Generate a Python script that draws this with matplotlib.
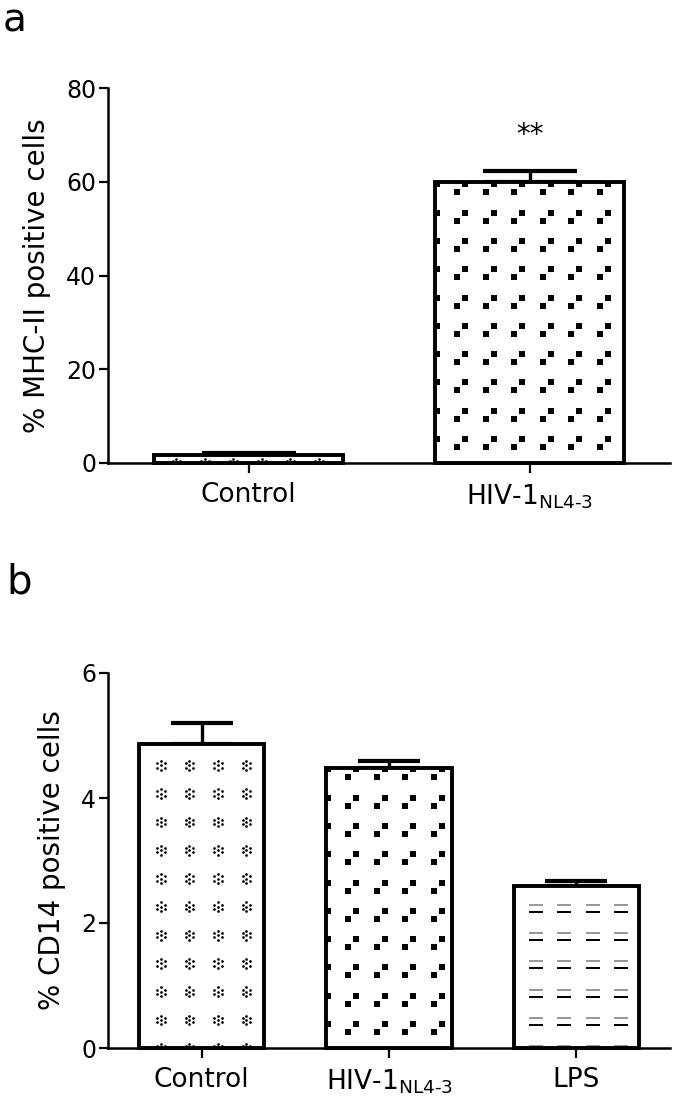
import numpy as np
import matplotlib
matplotlib.use('Agg')
import matplotlib.pyplot as plt

# panel a
groups_a = ['Control', r'HIV-1$_\text{NL4-3}$']
mhc_mean = [1.8, 60.0]
mhc_err = [0.4, 2.3]
mhc_fill = ['flower', 'squares']
mhc_ticks = [0, 20, 40, 60, 80]

# panel b
groups_b = ['Control', r'HIV-1$_\text{NL4-3}$', 'LPS']
cd14_mean = [4.87, 4.48, 2.6]
cd14_err = [0.33, 0.11, 0.08]
cd14_fill = ['flower', 'squares', 'dashes']
cd14_ticks = [0, 2, 4, 6]

DPI = 100
plt.rcParams['font.family'] = ['DejaVu Sans']
plt.rcParams['mathtext.fontset'] = 'dejavusans'


def px2pt(v):
    return v * 72.0 / DPI


def fill_pattern(ax, bar, kind):
    """draw the GraphPad-like fill motif inside a bar (pixel tiles, clipped)"""
    (x0, y0), (x1, y1) = ax.transData.transform([(bar.get_x(), bar.get_y()),
                                                  (bar.get_x() + bar.get_width(),
                                                   bar.get_y() + bar.get_height())])
    sx, sy = 28.5, 28.3
    inv = ax.transData.inverted()
    cols = np.arange(x0 + 22 - sx, x1 + sx, sx)
    rows = np.arange(y0 + 16 - sy, y1 + sy, sy)
    gx, gy = np.meshgrid(cols, rows)
    gx, gy = gx.ravel(), gy.ravel()

    def put(px, py, **kw):
        d = inv.transform(np.column_stack([px, py]))
        ln, = ax.plot(d[:, 0], d[:, 1], ls='none', zorder=3, **kw)
        ln.set_clip_path(bar)

    if kind == 'squares':
        for dx, dy in [(0, 0), (8, 8)]:
            put(gx + dx, gy + dy, marker='s', ms=px2pt(6), mfc='black', mew=0)
    elif kind == 'flower':
        offs = [(0, 0)] + [(4.4 * np.cos(a), 4.4 * np.sin(a))
                           for a in np.deg2rad(np.arange(0, 360, 60) + 30)]
        for dx, dy in offs:
            put(gx + dx, gy + 12 + dy, marker='o', ms=px2pt(2.7), mfc='black', mew=0)
    elif kind == 'dashes':
        put(gx, gy + 14, marker='_', ms=px2pt(14), mec='#999999', mew=px2pt(2))
        put(gx, gy + 7, marker='_', ms=px2pt(14), mec='black', mew=px2pt(2))


def bar_panel(fig, rect, groups, means, errs, fills, ticks, ylabel, ymax):
    ax = fig.add_axes(rect)
    x = np.arange(len(groups))
    ax.set_xlim(-0.5, len(groups) - 0.5)
    ax.set_ylim(0, ymax)

    width = 0.67
    bar_px = width * rect[2] * fig.get_figwidth() * DPI / len(groups)
    cap = px2pt(bar_px / 4)

    ax.errorbar(x, means, yerr=[np.zeros(len(errs)), errs], fmt='none',
                ecolor='black', elinewidth=2.4, capsize=cap, capthick=3, zorder=1)
    bars = ax.bar(x, means, width=width, color='white', edgecolor='none', zorder=2)
    for b, kind in zip(bars, fills):
        fill_pattern(ax, b, kind)
    ax.bar(x, means, width=width, fill=False, edgecolor='black', linewidth=2.8,
           zorder=4, clip_on=False)

    for s in ['top', 'right']:
        ax.spines[s].set_visible(False)
    for s in ['left', 'bottom']:
        ax.spines[s].set_linewidth(1.8)
    ax.set_yticks(ticks)
    ax.set_xticks(x)
    ax.set_xticklabels(groups, fontsize=19)
    ax.tick_params(axis='y', length=6.5, width=1.6, labelsize=17, pad=2)
    ax.tick_params(axis='x', length=7, width=1.6, pad=7)
    ax.set_ylabel(ylabel, fontsize=20, labelpad=11)
    return ax


fig = plt.figure(figsize=(675 / DPI, 1102 / DPI), dpi=DPI)
W, H = 675.0, 1102.0

ax_a = bar_panel(fig, [108 / W, 1 - 463 / H, 562 / W, 375 / H], groups_a,
                 mhc_mean, mhc_err, mhc_fill, mhc_ticks, '% MHC-II positive cells', 80)
ax_a.text(1, 70.0, '**', ha='center', va='center', fontsize=20)

ax_b = bar_panel(fig, [108 / W, 1 - 1048 / H, 562 / W, 375 / H], groups_b,
                 cd14_mean, cd14_err, cd14_fill, cd14_ticks, '% CD14 positive cells', 6)

fig.text(3 / W, 1 - 2 / H, 'a', fontsize=28, ha='left', va='top')
fig.text(6 / W, 1 - 593 / H, 'b', fontsize=29, ha='left', va='baseline')

fig.savefig('out.png', dpi=DPI)
